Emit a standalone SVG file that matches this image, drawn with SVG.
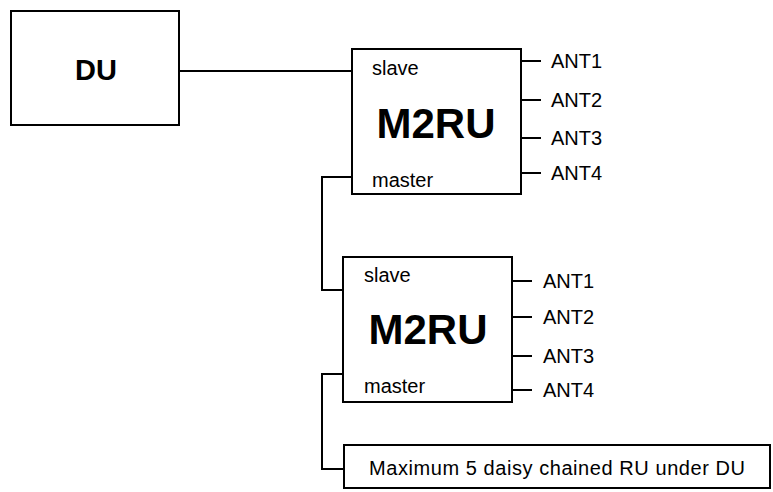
<svg xmlns="http://www.w3.org/2000/svg" width="773" height="492" viewBox="0 0 773 492">
<style>
.box{fill:#fff;stroke:#000;stroke-width:2}
.ln{fill:none;stroke:#000;stroke-width:2}
text{font-family:"Liberation Sans",Arial,sans-serif;fill:#000}
.lbl{font-size:20px}
.big{font-size:42px;font-weight:bold;text-anchor:middle}
.du{font-size:29px;font-weight:bold;text-anchor:middle}
</style>
<rect width="773" height="492" fill="#fff"/>
<g id="connectors">
<path class="ln" d="M179,71 H352"/>
<path class="ln" d="M352,177 H322 V290 H343"/>
<path class="ln" d="M343,374 H322 V469 H344"/>
<path class="ln" d="M521,61 H541 M521,100 H541 M521,138 H541 M521,173 H541"/>
<path class="ln" d="M512,281 H532 M512,317 H532 M512,356 H532 M512,390 H532"/>
</g>
<g id="du">
<rect class="box" x="11" y="11" width="168" height="114"/>
<text class="du" x="96" y="80">DU</text>
</g>
<g id="m2ru1">
<rect class="box" x="352" y="49" width="169" height="145"/>
<text class="lbl" x="372" y="75">slave</text>
<text class="big" x="436" y="138">M2RU</text>
<text class="lbl" x="372" y="187">master</text>
</g>
<g id="ant1">
<text class="lbl" x="551" y="68">ANT1</text>
<text class="lbl" x="551" y="107">ANT2</text>
<text class="lbl" x="551" y="145">ANT3</text>
<text class="lbl" x="551" y="180">ANT4</text>
</g>
<g id="m2ru2">
<rect class="box" x="343" y="257" width="169" height="145"/>
<text class="lbl" x="364" y="282">slave</text>
<text class="big" x="428" y="344">M2RU</text>
<text class="lbl" x="364" y="393">master</text>
</g>
<g id="ant2">
<text class="lbl" x="543" y="288">ANT1</text>
<text class="lbl" x="543" y="324">ANT2</text>
<text class="lbl" x="543" y="363">ANT3</text>
<text class="lbl" x="543" y="397">ANT4</text>
</g>
<g id="note">
<rect class="box" x="344" y="445" width="426" height="43"/>
<text class="lbl" x="369" y="475" textLength="376" lengthAdjust="spacing">Maximum 5 daisy chained RU under DU</text>
</g>
</svg>
